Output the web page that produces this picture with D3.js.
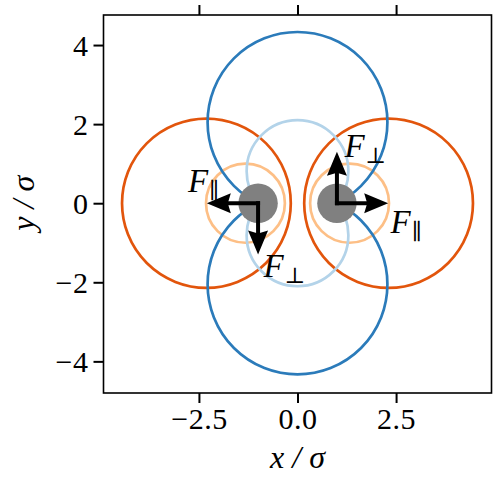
<!DOCTYPE html>
<html>
<head>
<meta charset="utf-8">
<script src="https://cdn.jsdelivr.net/npm/d3@7/dist/d3.min.js"></script>
<style>
  html, body { margin: 0; padding: 0; background: #fff; }
  svg { display: block; }
  .tick text { font-family: "Liberation Serif", "DejaVu Serif", serif; }
</style>
</head>
<body>
<svg id="chart" width="493" height="477"></svg>
<script>
// Axis extents and ticks (units of sigma)
const xDomain = [-4.92, 4.92];
const yDomain = [-4.80, 4.76];
const xTicks = [-2.5, 0, 2.5];
const yTicks = [-4, -2, 0, 2, 4];

// Two particles on the x axis
const particleX = [-1, 1];
const particleY = [0, 0];
const particleR = 0.5;

// Circles through both particle centres (centre on the y axis); each drawn on its own side of y = 0
const fieldCy = [2.05, 0.81, -0.81, -2.05];
const fieldR = [2.28, 1.29, 1.29, 2.28];
const fieldLevel = ["outer", "inner", "inner", "outer"];

// Circles around each particle (centre on the x axis)
const shellCx = [-2.31, -1.32, 1.32, 2.31];
const shellR = [2.14, 1.0, 1.0, 2.14];
const shellLevel = ["outer", "inner", "inner", "outer"];

// Force vectors acting on each particle
const forceX0 = [-1, -1, 1, 1];
const forceY0 = [0, 0, 0, 0];
const forceDx = [-1.3, 0, 1.3, 0];
const forceDy = [0, -1.3, 0, 1.3];
const forceSub = ["∥", "⊥", "∥", "⊥"];
// label anchor (start of "F", on its baseline), in sigma units
const labelX = [-2.78, -0.86, 2.36, 1.19];
const labelY = [0.29, -1.86, -0.75, 1.17];

const fieldColor = { outer: "#2b7bba", inner: "#b3d3e9" };
const shellColor = { outer: "#e2550c", inner: "#fdbf86" };

const svg = d3.select("#chart");
const plot = { left: 103.5, right: 491.5, top: 15, bottom: 393 };

const x = d3.scaleLinear().domain(xDomain).range([plot.left, plot.right]);
const y = d3.scaleLinear().domain(yDomain).range([plot.bottom, plot.top]);
const sx = r => x(r) - x(0);
const sy = r => y(0) - y(r);

// half-plane clips for the field circles
const defs = svg.append("defs");
defs.append("clipPath").attr("id", "upper")
  .append("rect").attr("x", plot.left).attr("y", plot.top)
  .attr("width", plot.right - plot.left).attr("height", y(0) - plot.top);
defs.append("clipPath").attr("id", "lower")
  .append("rect").attr("x", plot.left).attr("y", y(0))
  .attr("width", plot.right - plot.left).attr("height", plot.bottom - y(0));

const g = svg.append("g");

// shells around the particles
g.selectAll("ellipse.shell")
  .data(shellCx.map((cx, i) => ({ cx, r: shellR[i], level: shellLevel[i] })))
  .join("ellipse")
  .attr("class", "shell")
  .attr("cx", d => x(d.cx)).attr("cy", y(0))
  .attr("rx", d => sx(d.r)).attr("ry", d => sy(d.r))
  .attr("fill", "none")
  .attr("stroke", d => shellColor[d.level])
  .attr("stroke-width", 2.7);

// field arcs
g.selectAll("ellipse.field")
  .data(fieldCy.map((cy, i) => ({ cy, r: fieldR[i], level: fieldLevel[i] })))
  .join("ellipse")
  .attr("class", "field")
  .attr("cx", x(0)).attr("cy", d => y(d.cy))
  .attr("rx", d => sx(d.r)).attr("ry", d => sy(d.r))
  .attr("clip-path", d => d.cy > 0 ? "url(#upper)" : "url(#lower)")
  .attr("fill", "none")
  .attr("stroke", d => fieldColor[d.level])
  .attr("stroke-width", 2.7);

// particles
g.selectAll("ellipse.particle")
  .data(particleX.map((px, i) => ({ px, py: particleY[i] })))
  .join("ellipse")
  .attr("class", "particle")
  .attr("cx", d => x(d.px)).attr("cy", d => y(d.py))
  .attr("rx", sx(particleR)).attr("ry", sy(particleR))
  .attr("fill", "#808080");

// force arrows
const forces = forceX0.map((x0, i) => ({
  x0, y0: forceY0[i], x1: x0 + forceDx[i], y1: forceY0[i] + forceDy[i],
  sub: forceSub[i], lx: labelX[i], ly: labelY[i]
}));
const headLen = 24, headHalf = 10, notch = 3;
const arrows = g.selectAll("g.arrow").data(forces).join("g").attr("class", "arrow");
arrows.each(function (d) {
  const a = d3.select(this);
  const X0 = x(d.x0), Y0 = y(d.y0), X1 = x(d.x1), Y1 = y(d.y1);
  const len = Math.hypot(X1 - X0, Y1 - Y0);
  const ang = Math.atan2(Y1 - Y0, X1 - X0) * 180 / Math.PI;
  const t = a.append("g").attr("transform", `translate(${X0},${Y0}) rotate(${ang})`);
  t.append("line")
    .attr("x1", -2).attr("y1", 0)
    .attr("x2", len - headLen + notch + 1).attr("y2", 0)
    .attr("stroke", "#000").attr("stroke-width", 4);
  t.append("path")
    .attr("d", `M${len},0 L${len - headLen},${-headHalf} L${len - headLen + notch},0 L${len - headLen},${headHalf} Z`)
    .attr("fill", "#000");
});

// force labels
const labels = g.selectAll("text.flabel").data(forces).join("text")
  .attr("class", "flabel")
  .attr("x", d => x(d.lx)).attr("y", d => y(d.ly))
  .attr("font-family", "'Liberation Serif', 'DejaVu Serif', serif")
  .attr("fill", "#000");
labels.append("tspan")
  .attr("font-style", "italic").attr("font-size", 33)
  .text("F");
labels.append("tspan")
  .attr("font-size", 22).attr("dy", 6).attr("dx", 1)
  .attr("font-family", "'DejaVu Serif', serif")
  .text(d => d.sub);

// axes
const tickFont = 30;
const xAxis = svg.append("g")
  .attr("transform", `translate(0,${plot.bottom})`)
  .call(d3.axisBottom(x).tickValues(xTicks).tickFormat(d3.format(".1f")).tickSize(10).tickPadding(5));
const xTop = svg.append("g")
  .attr("transform", `translate(0,${plot.top})`)
  .call(d3.axisTop(x).tickValues(xTicks).tickFormat("").tickSize(10));
const yAxis = svg.append("g")
  .attr("transform", `translate(${plot.left},0)`)
  .call(d3.axisLeft(y).tickValues(yTicks).tickFormat(d3.format("d")).tickSize(10).tickPadding(5));

[xAxis, xTop, yAxis].forEach(ax => {
  ax.select(".domain").remove();
  ax.selectAll(".tick line").attr("stroke", "#000").attr("stroke-width", 2);
  ax.selectAll(".tick text").attr("font-size", tickFont).attr("fill", "#000")
    .attr("letter-spacing", 0.5);
});
yAxis.selectAll(".tick text").attr("dy", "0.34em");

// frame
svg.append("rect")
  .attr("x", plot.left).attr("y", plot.top)
  .attr("width", plot.right - plot.left).attr("height", plot.bottom - plot.top)
  .attr("fill", "none").attr("stroke", "#000").attr("stroke-width", 1.6);

// axis titles
svg.append("text")
  .attr("x", x(0)).attr("y", 468)
  .attr("text-anchor", "middle")
  .attr("font-family", "'Liberation Serif', serif")
  .attr("font-size", 32).attr("font-style", "italic")
  .text("x / σ");
svg.append("text")
  .attr("transform", `translate(34,${y(0)}) rotate(-90)`)
  .attr("text-anchor", "middle")
  .attr("font-family", "'Liberation Serif', serif")
  .attr("font-size", 32).attr("font-style", "italic")
  .text("y / σ");
</script>
</body>
</html>
